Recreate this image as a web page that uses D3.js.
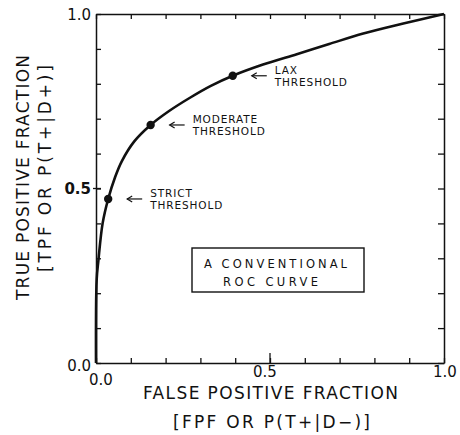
<!DOCTYPE html>
<html lang="en">
  <head>
    <meta charset="utf-8">
    <title>ROC curve</title>
    <script src="https://cdnjs.cloudflare.com/ajax/libs/d3/7.8.5/d3.min.js"></script>
    <style>
    body { margin: 0; background: #fff; }
    text { font-family: "DejaVu Sans", sans-serif; fill: #111; }
    </style>
  </head>
  <body>
    <script>
    // curve
    const fpf = [0, 0.002, 0.007, 0.019, 0.035, 0.055, 0.074, 0.11, 0.157, 0.21, 0.27, 0.33, 0.393, 0.48, 0.577, 0.67, 0.768, 0.88, 1.0]
    const tpf = [0, 0.24, 0.295, 0.40, 0.47, 0.533, 0.578, 0.635, 0.682, 0.722, 0.76, 0.794, 0.823, 0.855, 0.885, 0.914, 0.944, 0.972, 1.0]

    const thresholdNames = ["STRICT", "MODERATE", "LAX"]
    const thresholdFpf = [0.035, 0.157, 0.393]
    const thresholdTpf = [0.47, 0.682, 0.823]

    const tickValues = [0, 0.1, 0.2, 0.3, 0.4, 0.5, 0.6, 0.7, 0.8, 0.9, 1.0]
    const tickLabels = ["0.0", "0.5", "1.0"]

    const dims = { width: 460, height: 435, left: 96, right: 444, top: 14, bottom: 363 }

    const svg = d3.select("body").append("svg")
        .attr("width", dims.width)
        .attr("height", dims.height)

    const x = d3.scaleLinear().domain([0, 1]).range([dims.left, dims.right])
    const y = d3.scaleLinear().domain([0, 1]).range([dims.bottom, dims.top])

    // frame with inward ticks
    function styleAxis(g) {
        g.select(".domain").attr("stroke", "#111").attr("stroke-width", 1.5)
        g.selectAll(".tick line").attr("stroke", "#111").attr("stroke-width", 1.3)
        g.selectAll(".tick text").remove()
    }
    const noLabel = () => ""
    svg.append("g").attr("transform", `translate(0,${dims.bottom})`)
        .call(d3.axisBottom(x).tickValues(tickValues).tickSizeInner(-5).tickSizeOuter(0).tickFormat(noLabel))
        .call(styleAxis)
    svg.append("g").attr("transform", `translate(0,${dims.top})`)
        .call(d3.axisTop(x).tickValues(tickValues).tickSizeInner(-5).tickSizeOuter(0).tickFormat(noLabel))
        .call(styleAxis)
    svg.append("g").attr("transform", `translate(${dims.left},0)`)
        .call(d3.axisLeft(y).tickValues(tickValues).tickSizeInner(-5).tickSizeOuter(0).tickFormat(noLabel))
        .call(styleAxis)
    svg.append("g").attr("transform", `translate(${dims.right},0)`)
        .call(d3.axisRight(y).tickValues(tickValues).tickSizeInner(-6).tickSizeOuter(0).tickFormat(noLabel))
        .call(styleAxis)

    // longer 0.5 ticks on bottom and left
    svg.append("line")
        .attr("x1", x(0.5)).attr("x2", x(0.5))
        .attr("y1", dims.bottom).attr("y2", dims.bottom - 10)
        .attr("stroke", "#111").attr("stroke-width", 1.3)
    svg.append("line")
        .attr("x1", dims.left - 3).attr("x2", dims.left + 5)
        .attr("y1", y(0.5)).attr("y2", y(0.5))
        .attr("stroke", "#111").attr("stroke-width", 1.3)

    // tick labels
    const xLabelShift = { "0.0": [5, 22], "0.5": [-5, 14], "1.0": [1, 14] }
    svg.selectAll(".xlab").data(tickLabels).enter().append("text")
        .attr("x", d => x(+d) + xLabelShift[d][0])
        .attr("y", d => dims.bottom + xLabelShift[d][1])
        .attr("text-anchor", "middle")
        .style("font-size", "15px")
        .text(d => d)

    const yLabelShift = { "0.0": 8, "0.5": 5, "1.0": 6 }
    svg.selectAll(".ylab").data(tickLabels).enter().append("text")
        .attr("x", dims.left - 5)
        .attr("y", d => y(+d) + yLabelShift[d])
        .attr("text-anchor", "end")
        .style("font-size", "15px")
        .style("font-weight", d => d === "0.5" ? "bold" : "normal")
        .text(d => d)

    // the curve
    const line = d3.line()
        .x(i => x(fpf[i]))
        .y(i => y(tpf[i]))
        .curve(d3.curveCatmullRom.alpha(0.5))
    svg.append("path")
        .attr("d", line(d3.range(fpf.length)))
        .attr("fill", "none")
        .attr("stroke", "#111")
        .attr("stroke-width", 2.6)

    // threshold points, arrows and two-line labels
    const thr = svg.selectAll(".thr").data(thresholdNames).enter().append("g")
    thr.append("circle")
        .attr("cx", (d, i) => x(thresholdFpf[i]))
        .attr("cy", (d, i) => y(thresholdTpf[i]))
        .attr("r", 4.2)
        .attr("fill", "#111")
    thr.append("line")
        .attr("x1", (d, i) => x(thresholdFpf[i]) + 19)
        .attr("x2", (d, i) => x(thresholdFpf[i]) + 34)
        .attr("y1", (d, i) => y(thresholdTpf[i]))
        .attr("y2", (d, i) => y(thresholdTpf[i]))
        .attr("stroke", "#111").attr("stroke-width", 1.2)
    thr.append("path")
        .attr("d", (d, i) => {
            const ax = x(thresholdFpf[i]) + 19, ay = y(thresholdTpf[i])
            return `M${ax + 5},${ay - 3} L${ax},${ay} L${ax + 5},${ay + 3}`
        })
        .attr("fill", "none").attr("stroke", "#111").attr("stroke-width", 1.2)
    const thrText = thr.append("text")
        .attr("y", (d, i) => y(thresholdTpf[i]) - 2)
        .style("font-size", "10.5px")
        .style("letter-spacing", "0.9px")
    thrText.append("tspan")
        .attr("x", (d, i) => x(thresholdFpf[i]) + 42)
        .text(d => d)
    thrText.append("tspan")
        .attr("x", (d, i) => x(thresholdFpf[i]) + 42)
        .attr("dy", 12)
        .text("THRESHOLD")

    // boxed caption
    svg.append("rect")
        .attr("x", 192).attr("y", 248)
        .attr("width", 172).attr("height", 44)
        .attr("fill", "none").attr("stroke", "#111").attr("stroke-width", 1.4)
    svg.append("text")
        .attr("x", 204).attr("y", 268)
        .attr("textLength", 143).attr("lengthAdjust", "spacing")
        .style("font-size", "11.5px")
        .text("A  CONVENTIONAL")
    svg.append("text")
        .attr("x", 223).attr("y", 286)
        .attr("textLength", 95).attr("lengthAdjust", "spacing")
        .style("font-size", "11.5px")
        .text("ROC   CURVE")

    // axis titles
    svg.append("text")
        .attr("x", 143).attr("y", 399)
        .attr("textLength", 255).attr("lengthAdjust", "spacing")
        .style("font-size", "17px")
        .text("FALSE  POSITIVE  FRACTION")
    svg.append("text")
        .attr("x", 173).attr("y", 428)
        .attr("textLength", 197).attr("lengthAdjust", "spacing")
        .style("font-size", "17px")
        .text("[FPF   OR  P(T+|D\u2212)]")

    svg.append("text")
        .attr("transform", "translate(29,300) rotate(-90)")
        .attr("textLength", 245).attr("lengthAdjust", "spacing")
        .style("font-size", "17px")
        .text("TRUE  POSITIVE  FRACTION")
    svg.append("text")
        .attr("transform", "translate(51,272) rotate(-90)")
        .attr("textLength", 207).attr("lengthAdjust", "spacing")
        .style("font-size", "17px")
        .text("[TPF   OR  P(T+|D+)]")
    </script>
  </body>
</html>
